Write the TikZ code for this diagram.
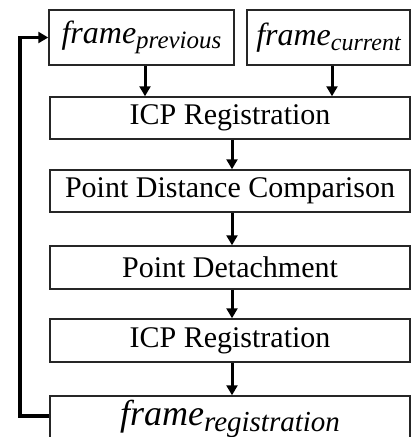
\documentclass[tikz,border=0pt]{standalone}
\usepackage{fontspec}
\setmainfont{Liberation Serif}
\usetikzlibrary{arrows.meta}
\newcommand{\fsubtxt}[4]{{\fontsize{#1}{#1}\selectfont\itshape frame}\raisebox{-#3}{\fontsize{#2}{#2}\selectfont\itshape #4}}
\begin{document}
\begin{tikzpicture}[x=1pt,y=-1pt,
  box/.style={draw=black!85, line width=1.5pt, inner sep=0pt, font=\fontsize{30}{36}\selectfont},
  arr/.style={line width=3pt, -{Triangle[length=10pt,width=11pt]}},
  fb/.style={line width=3.2pt, -{Triangle[length=10pt,width=11pt]}}]
\clip (0,0) rectangle (411,437);
\useasboundingbox (0,0) rectangle (411,437);
\node[box, minimum width=185pt, minimum height=55pt] (prev) at (141.5,37.5) {\fsubtxt{32}{25}{5pt}{previous}};
\node[box, minimum width=163pt, minimum height=55pt] (curr) at (328.5,37.5) {\fsubtxt{32}{24}{5pt}{current}};
\node[box, minimum width=360pt, minimum height=42pt] (icp1) at (230,118) {ICP Registration};
\node[box, minimum width=360pt, minimum height=42pt] (pdc) at (230,191) {Point Distance Comparison};
\node[box, minimum width=360pt, minimum height=43pt] (pd) at (230,267.5) {Point Detachment};
\node[box, minimum width=360pt, minimum height=43pt] (icp2) at (230,340.5) {ICP Registration};
\node[box, minimum width=360pt, minimum height=46pt] (reg) at (230,419) {\fsubtxt{36}{29}{6pt}{registration}};
\draw[arr] (prev.south -| 145,0) -- (icp1.north -| 145,0);
\draw[arr] (curr.south -| 332,0) -- (icp1.north -| 332,0);
\draw[arr] (icp1.south -| 232,0) -- (pdc.north -| 232,0);
\draw[arr] (pdc.south -| 232,0) -- (pd.north -| 232,0);
\draw[arr] (pd.south -| 232,0) -- (icp2.north -| 232,0);
\draw[arr] (icp2.south -| 232,0) -- (reg.north -| 232,0);
\coordinate (c1) at (20,416);
\coordinate (c2) at (20,37.5);
\draw[fb] ([yshift=3pt]reg.west) -- (c1) -- (c2) -- (prev.west);
\end{tikzpicture}
\end{document}
